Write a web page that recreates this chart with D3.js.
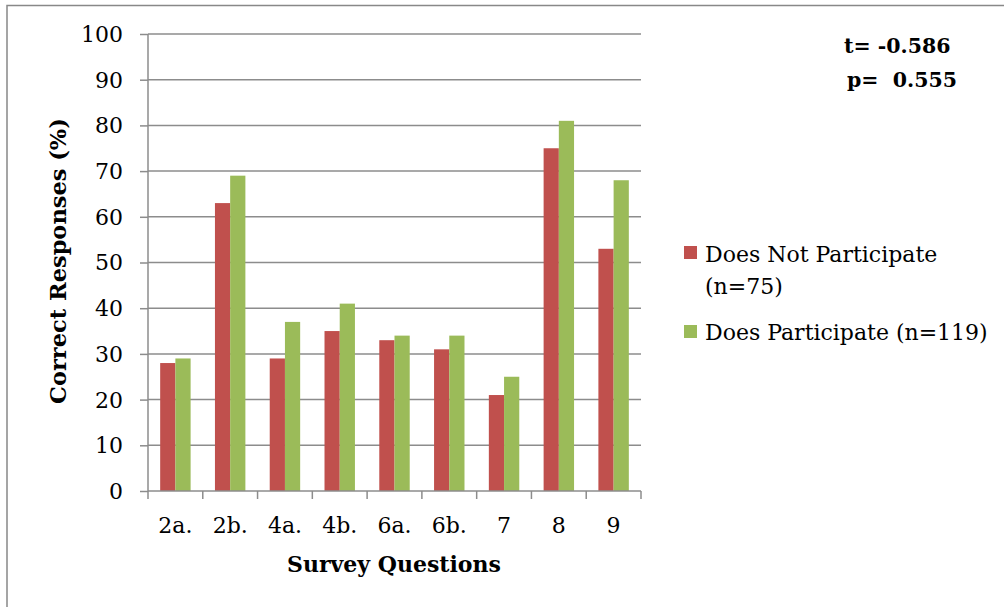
<!DOCTYPE html>
<html><head><meta charset="utf-8">
<script src="https://cdn.jsdelivr.net/npm/d3@7"></script>
<style>body{margin:0;background:#fff}svg{display:block}text{font-family:"DejaVu Serif",serif}</style>
</head><body><svg id="c" width="1004" height="607"></svg>
<script>
const categories = ["2a.","2b.","4a.","4b.","6a.","6b.","7","8","9"];
const notParticipate = [28,63,29,35,33,31,21,75,53];
const participate = [29,69,37,41,34,34,25,81,68];
const seriesNames = ["Does Not Participate (n=75)","Does Participate (n=119)"];
const yTicks = [0,10,20,30,40,50,60,70,80,90,100];
const colors = ["#C0504D","#9BBB59"];
const FS = 22;

const svg = d3.select("#c");
svg.append("rect").attr("x",7).attr("y",5.5).attr("width",1010).attr("height",610)
  .attr("fill","none").attr("stroke","#888").attr("stroke-width",1.5);

const L=148, R=641, T=34, B=491;
const x = d3.scaleBand().domain(categories).range([L,R]).paddingInner(0).paddingOuter(0);
const y = d3.scaleLinear().domain([0,100]).range([B,T]);
const xs = d3.scaleBand().domain([0,1]).range([0,x.bandwidth()]).paddingInner(0).paddingOuter(0.8);

// gridlines
svg.append("g").selectAll("line").data(yTicks.filter(d=>d>0)).join("line")
  .attr("x1",L).attr("x2",R).attr("y1",d=>y(d)).attr("y2",d=>y(d))
  .attr("stroke","#8c8c8c").attr("stroke-width",1.5);

// bars
const data = categories.map((c,i)=>({c, v:[notParticipate[i],participate[i]]}));
const g = svg.append("g");
g.selectAll("g").data(data).join("g").attr("transform",d=>`translate(${x(d.c)},0)`)
  .selectAll("rect").data(d=>d.v.map((v,k)=>({v,k}))).join("rect")
  .attr("x",d=>xs(d.k)).attr("width",xs.bandwidth())
  .attr("y",d=>y(d.v)).attr("height",d=>B-y(d.v))
  .attr("fill",d=>colors[d.k]);

// y axis
const ya = svg.append("g").attr("transform",`translate(${L},0)`)
  .call(d3.axisLeft(y).tickValues(yTicks).tickSize(8).tickPadding(17));
ya.select(".domain").attr("stroke","#8c8c8c").attr("stroke-width",1.5).attr("d",`M0,${T}V${B}`);
ya.selectAll(".tick line").attr("stroke","#8c8c8c").attr("stroke-width",1.5);
ya.selectAll(".tick text").attr("font-size",FS).attr("fill","#000").attr("font-family","DejaVu Serif").attr("dy","0.34em");

// x axis
const xa = svg.append("g").attr("transform",`translate(0,${B})`)
  .call(d3.axisBottom(x).tickSize(0).tickPadding(0));
xa.select(".domain").attr("stroke","#8c8c8c").attr("stroke-width",1.5).attr("d",`M${L},0H${R}`);
xa.selectAll(".tick text").attr("font-size",FS).attr("fill","#000").attr("font-family","DejaVu Serif").attr("dy",0).attr("y",42);
svg.append("g").selectAll("line").data(d3.range(categories.length+1)).join("line")
  .attr("x1",i=>L+i*x.bandwidth()).attr("x2",i=>L+i*x.bandwidth())
  .attr("y1",B).attr("y2",B+8).attr("stroke","#8c8c8c").attr("stroke-width",1.5);

// titles
svg.append("text").attr("x",394).attr("y",572).attr("text-anchor","middle")
  .attr("font-size",FS).attr("font-weight","bold").text("Survey Questions");
svg.append("text").attr("transform","translate(66,261) rotate(-90)").attr("text-anchor","middle")
  .attr("font-size",FS+0.5).attr("font-weight","bold").text("Correct Responses (%)");

// legend
const lg = svg.append("g");
lg.append("rect").attr("x",684).attr("y",246).attr("width",13).attr("height",13).attr("fill",colors[0]);
lg.append("text").attr("x",705).attr("y",262).attr("font-size",FS).text("Does Not Participate");
lg.append("text").attr("x",705).attr("y",294).attr("font-size",FS).text("(n=75)");
lg.append("rect").attr("x",684).attr("y",325).attr("width",13).attr("height",13).attr("fill",colors[1]);
lg.append("text").attr("x",705).attr("y",340).attr("font-size",FS).text(seriesNames[1]);

// annotation
svg.append("text").attr("x",844).attr("y",53).attr("font-size",20.5).attr("font-weight","bold").text("t= -0.586");
svg.append("text").attr("x",847).attr("y",87).attr("font-size",20.5).attr("font-weight","bold").attr("xml:space","preserve").text("p=  0.555");
</script></body></html>
